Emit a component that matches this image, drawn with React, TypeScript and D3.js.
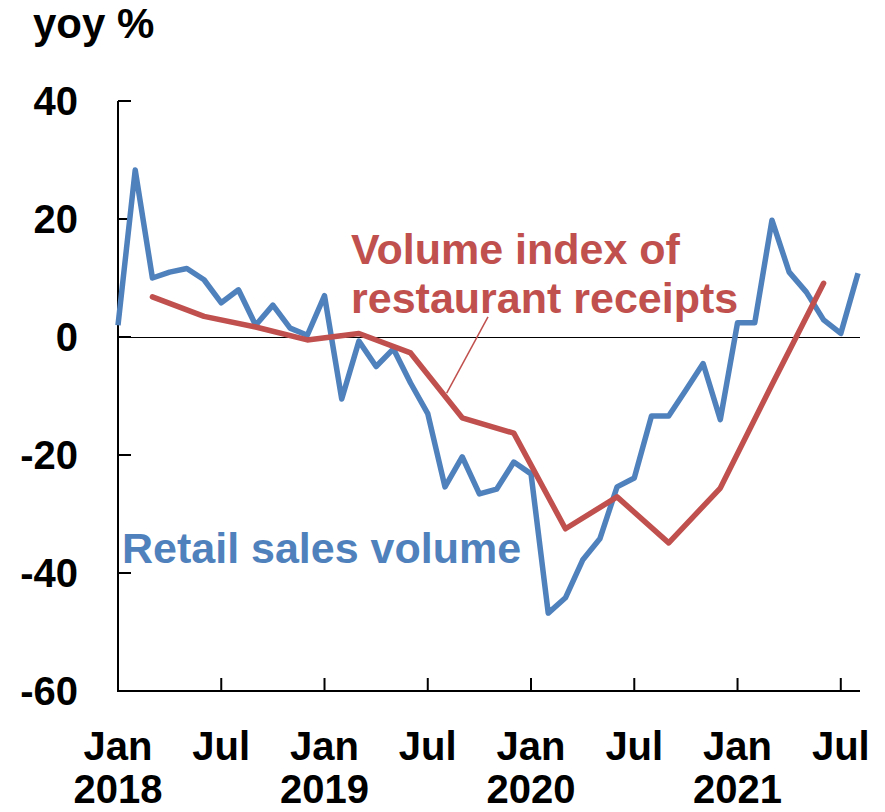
import React, { useEffect, useRef } from "react";
import * as d3 from "d3";

// monthly, Jan 2018 .. Aug 2021
const retailSales = [
  2.0, 28.3, 10.0, 11.0, 11.6, 9.7, 5.8, 8.0, 2.0, 5.4, 1.5, 0.3,
  7.0, -10.5, -0.7, -5.0, -2.0, -7.8, -13.0, -25.4, -20.3, -26.6, -25.8, -21.2,
  -23.2, -46.8, -44.2, -37.8, -34.2, -25.4, -23.9, -13.4, -13.4, -9.0, -4.5, -14.0,
  2.4, 2.4, 19.8, 11.0, 7.6, 2.9, 0.6, 10.8,
];

// quarterly (Mar, Jun, Sep, Dec), month index from Jan 2018
const restaurantMonths = [2, 5, 8, 11, 14, 17, 20, 23, 26, 29, 32, 35, 38, 41];
const restaurantReceipts = [
  6.8, 3.5, 1.7, -0.5, 0.6, -2.7, -13.7, -16.3, -32.5, -27.1, -34.9, -25.6, -8.1, 9.1,
];

const yTicks = [40, 20, 0, -20, -40, -60];
const xTickMonths = [0, 6, 12, 18, 24, 30, 36, 42];
const xTickMonthLabels = ["Jan", "Jul", "Jan", "Jul", "Jan", "Jul", "Jan", "Jul"];
const xTickYearLabels = ["2018", "", "2019", "", "2020", "", "2021", ""];

const BLUE = "#4f81bd";
const RED = "#c0504d";
const FONT = "'Liberation Sans', Arial, sans-serif";

function Chart() {
  const ref = useRef<SVGSVGElement | null>(null);
  const width = 885;
  const height = 812;
  const margin = { top: 101, right: 27, bottom: 121, left: 118 };

  useEffect(() => {
    const svg = d3.select(ref.current);
    svg.selectAll("*").remove();

    const x = d3
      .scaleLinear()
      .domain([0, retailSales.length - 1])
      .range([margin.left, width - margin.right]);
    const y = d3
      .scaleLinear()
      .domain([-60, 40])
      .range([height - margin.bottom, margin.top]);

    const g = svg.append("g");

    // zero line
    g.append("line")
      .attr("x1", x(0))
      .attr("x2", x(retailSales.length - 1) + 2)
      .attr("y1", y(0))
      .attr("y2", y(0))
      .attr("stroke", "#000")
      .attr("stroke-width", 1)
      .attr("shape-rendering", "crispEdges");

    // y axis
    g.append("line")
      .attr("x1", x(0))
      .attr("x2", x(0))
      .attr("y1", y(40))
      .attr("y2", y(-60))
      .attr("stroke", "#000")
      .attr("stroke-width", 2);
    g.selectAll(".ytick")
      .data(yTicks)
      .enter()
      .append("line")
      .attr("x1", x(0))
      .attr("x2", x(0) + 13)
      .attr("y1", (d) => y(d))
      .attr("y2", (d) => y(d))
      .attr("stroke", "#000")
      .attr("stroke-width", 2);
    g.selectAll(".ylabel")
      .data(yTicks)
      .enter()
      .append("text")
      .attr("x", 78)
      .attr("y", (d) => y(d))
      .attr("dy", "0.36em")
      .attr("text-anchor", "end")
      .style("font-family", FONT)
      .style("font-weight", "bold")
      .style("font-size", "40px")
      .text((d) => String(d));

    // x axis
    g.append("line")
      .attr("x1", x(0) - 1)
      .attr("x2", x(retailSales.length - 1) + 2)
      .attr("y1", y(-60))
      .attr("y2", y(-60))
      .attr("stroke", "#000")
      .attr("stroke-width", 2);
    g.selectAll(".xtick")
      .data(xTickMonths.slice(1))
      .enter()
      .append("line")
      .attr("x1", (d) => x(d))
      .attr("x2", (d) => x(d))
      .attr("y1", y(-60))
      .attr("y2", y(-60) - 13)
      .attr("stroke", "#000")
      .attr("stroke-width", 2);
    g.selectAll(".xlabel")
      .data(xTickMonths)
      .enter()
      .append("text")
      .attr("x", (d) => x(d))
      .attr("y", 760)
      .attr("text-anchor", "middle")
      .style("font-family", FONT)
      .style("font-weight", "bold")
      .style("font-size", "40px")
      .text((_, i) => xTickMonthLabels[i]);
    g.selectAll(".xyear")
      .data(xTickMonths)
      .enter()
      .append("text")
      .attr("x", (d) => x(d))
      .attr("y", 803)
      .attr("text-anchor", "middle")
      .style("font-family", FONT)
      .style("font-weight", "bold")
      .style("font-size", "40px")
      .text((_, i) => xTickYearLabels[i]);

    // series
    const retailLine = d3
      .line<number>()
      .x((_, i) => x(i))
      .y((d) => y(d));
    g.append("path")
      .attr("d", retailLine(retailSales))
      .attr("fill", "none")
      .attr("stroke", BLUE)
      .attr("stroke-width", 5.5)
      .attr("stroke-linejoin", "round");

    const restaurantLine = d3
      .line<number>()
      .x((_, i) => x(restaurantMonths[i]))
      .y((d) => y(d));
    g.append("path")
      .attr("d", restaurantLine(restaurantReceipts))
      .attr("fill", "none")
      .attr("stroke", RED)
      .attr("stroke-width", 5.5)
      .attr("stroke-linejoin", "round")
      .attr("stroke-linecap", "round");

    // leader line for restaurant label
    g.append("line")
      .attr("x1", x(21.5))
      .attr("y1", y(3.4))
      .attr("x2", x(19.1))
      .attr("y2", y(-9.5))
      .attr("stroke", RED)
      .attr("stroke-width", 1.5);

    // titles / labels
    g.append("text")
      .attr("x", 33)
      .attr("y", 38)
      .style("font-family", FONT)
      .style("font-weight", "bold")
      .style("font-size", "42px")
      .text("yoy %");

    const redLabel = g
      .append("text")
      .style("font-family", FONT)
      .style("font-weight", "bold")
      .style("font-size", "43px")
      .attr("fill", RED);
    redLabel.append("tspan").attr("x", 351).attr("y", 264).text("Volume index of");
    redLabel.append("tspan").attr("x", 351).attr("y", 313).text("restaurant receipts");

    g.append("text")
      .attr("x", 122)
      .attr("y", 563)
      .style("font-family", FONT)
      .style("font-weight", "bold")
      .style("font-size", "43px")
      .attr("fill", BLUE)
      .text("Retail sales volume");
  });

  return (
    <svg
      ref={ref}
      width={width}
      height={height}
      style={{ position: "absolute", left: 0, top: 0, background: "#fff" }}
    />
  );
}

export default function App() {
  return <Chart />;
}
